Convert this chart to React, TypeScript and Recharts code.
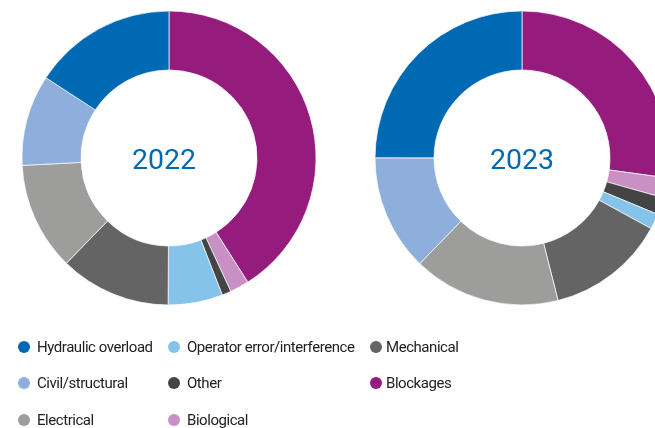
import * as React from "react"
import { Cell, Legend, Pie, PieChart } from "recharts"

// slice order, clockwise from 12 o'clock
const causes = [
  "Blockages",
  "Biological",
  "Other",
  "Operator error/interference",
  "Mechanical",
  "Electrical",
  "Civil/structural",
  "Hydraulic overload",
]
const colors = ["#951b7c", "#c890c4", "#444444", "#85c3ea", "#646464", "#9d9d9c", "#8eaedb", "#0069b4"]

const years = ["2022", "2023"]
const share2022 = [41.0, 2.1, 1.0, 6.0, 12.2, 11.9, 10.0, 15.8]
const share2023 = [27.2, 2.2, 1.9, 1.7, 13.1, 16.2, 12.8, 25.0]

// legend columns (read top to bottom)
const legendCols = [
  ["Hydraulic overload", "Civil/structural", "Electrical"],
  ["Operator error/interference", "Other", "Biological"],
  ["Mechanical", "Blockages"],
]
const colX = [18, 168, 370]
const textX = [37, 187, 386]
const rowY = [347, 383, 420]

const pieX = [169, 522]
const pieY = 158
const yearX = [164, 522] // the 2022 label sits a little left of centre in the original

const toRows = (vals: number[]) => causes.map((name, i) => ({ name, value: vals[i] }))

const colorOf = (name: string) => colors[causes.indexOf(name)]

function LegendGrid() {
  return (
    <div style={{ position: "relative", width: 655, height: 98 }}>
      {legendCols.map((col, c) =>
        col.map((name, r) => (
          <div key={name}>
            <span
              style={{
                position: "absolute",
                left: colX[c],
                top: rowY[r] - 330 - 6,
                width: 12,
                height: 12,
                borderRadius: "50%",
                background: colorOf(name),
              }}
            />
            <span
              style={{
                position: "absolute",
                left: textX[c],
                top: rowY[r] - 330 - 10,
                lineHeight: "20px",
                fontSize: 15,
                letterSpacing: -0.45,
                color: "#222",
                whiteSpace: "nowrap",
              }}
            >
              {name}
            </span>
          </div>
        ))
      )}
    </div>
  )
}

export default function App() {
  return (
    <div style={{ position: "fixed", left: 0, top: 0, fontFamily: "Roboto, sans-serif" }}>
      <PieChart width={655} height={428} margin={{ top: 0, right: 0, bottom: 0, left: 0 }}>
        {[share2022, share2023].map((vals, k) => (
          <Pie
            key={years[k]}
            data={toRows(vals)}
            dataKey="value"
            nameKey="name"
            cx={pieX[k]}
            cy={pieY}
            innerRadius={88}
            outerRadius={147}
            startAngle={90}
            endAngle={-270}
            stroke="#fff"
            strokeWidth={0.7}
            isAnimationActive={false}
          >
            {causes.map((c, i) => (
              <Cell key={c} fill={colors[i]} />
            ))}
          </Pie>
        ))}
        {years.map((y, k) => (
          <text
            key={y}
            x={yearX[k]}
            y={pieY + 1}
            textAnchor="middle"
            dominantBaseline="central"
            fill="#0069b4"
            fontSize={28.5}
            fontFamily="Roboto"
          >
            {y}
          </text>
        ))}
        <Legend
          content={() => <LegendGrid />}
          wrapperStyle={{ position: "absolute", left: 0, top: 330, width: 655, height: 98 }}
        />
      </PieChart>
    </div>
  )
}
